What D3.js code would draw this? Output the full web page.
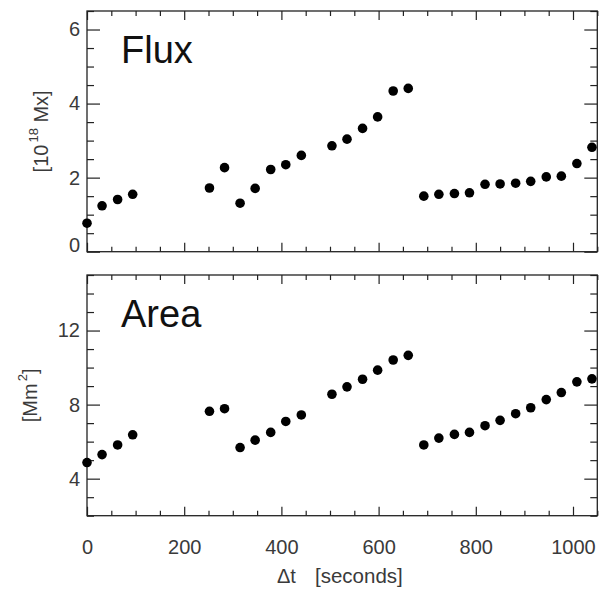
<!DOCTYPE html>
<html>
<head>
<meta charset="utf-8">
<script src="https://cdn.jsdelivr.net/npm/d3@7"></script>
<style>
  html, body { margin: 0; padding: 0; background: #fff; }
  svg { display: block; font-family: "Liberation Sans", Arial, Helvetica, sans-serif; }
</style>
</head>
<body>
<svg id="chart" width="603" height="590"></svg>
<script>
// ---- data ----
const times = [0, 31, 63, 94, 252, 283, 315, 346, 378, 409, 441, 504, 535, 567, 598, 630, 661,
               693, 724, 756, 787, 819, 850, 882, 913, 945, 976, 1008, 1039];
const fluxValues = [0.77, 1.24, 1.41, 1.55, 1.72, 2.27, 1.31, 1.71, 2.22, 2.35, 2.60, 2.86, 3.04, 3.33, 3.64, 4.34, 4.41,
                    1.50, 1.55, 1.57, 1.59, 1.82, 1.83, 1.85, 1.90, 2.02, 2.04, 2.38, 2.82];
const areaValues = [4.87, 5.30, 5.82, 6.37, 7.64, 7.78, 5.68, 6.08, 6.50, 7.09, 7.44, 8.56, 8.96, 9.37, 9.86, 10.41, 10.66,
                    5.82, 6.19, 6.39, 6.50, 6.86, 7.15, 7.51, 7.83, 8.27, 8.65, 9.23, 9.39];
const xMajorTicks = [0, 200, 400, 600, 800, 1000];
const fluxMajorTicks = [0, 2, 4, 6];
const areaMajorTicks = [4, 8, 12];

// ---- layout ----
const svg = d3.select("#chart");
const L = 87, R = 597.3;
const x = d3.scaleLinear().domain([0, 1050]).range([L, R]);
const xMinor = d3.range(0, 1051, 50).filter(v => v % 200 !== 0);

const panels = [
  { name: "Flux", values: fluxValues, domain: [0, 6.5], top: 11, bottom: 251.7,
    major: fluxMajorTicks, minorStep: 0.5, ylabelX: 48, unit: ["[10", "18", " Mx]"], xlabels: false },
  { name: "Area", values: areaValues, domain: [2, 15], top: 275, bottom: 515.7,
    major: areaMajorTicks, minorStep: 1, ylabelX: 37, unit: ["[Mm", "2", "]"], xlabels: true }
];

const axisColor = "#222";
const textColor = "#3a3a3a";

panels.forEach(p => {
  const y = d3.scaleLinear().domain(p.domain).range([p.bottom, p.top]);
  const g = svg.append("g");
  const yMinor = d3.range(p.domain[0], p.domain[1] + 1e-9, p.minorStep)
                   .filter(v => !p.major.some(m => Math.abs(m - v) < 1e-9));

  // bottom axis (ticks pointing inward)
  g.append("g").attr("transform", `translate(0,${p.bottom})`)
    .call(d3.axisBottom(x).tickValues(xMajorTicks).tickSize(-9).tickPadding(24)
      .tickFormat(p.xlabels ? d3.format("d") : () => ""));
  g.append("g").attr("transform", `translate(0,${p.bottom})`)
    .call(d3.axisBottom(x).tickValues(xMinor).tickSize(-5).tickFormat(() => ""));
  // top axis
  g.append("g").attr("transform", `translate(0,${p.top})`)
    .call(d3.axisTop(x).tickValues(xMajorTicks).tickSize(-9).tickFormat(() => ""));
  g.append("g").attr("transform", `translate(0,${p.top})`)
    .call(d3.axisTop(x).tickValues(xMinor).tickSize(-5).tickFormat(() => ""));
  // left axis
  const lMaj = g.append("g").attr("transform", `translate(${L},0)`)
    .call(d3.axisLeft(y).tickValues(p.major).tickSize(-13).tickPadding(7).tickFormat(d3.format("d")));
  g.append("g").attr("transform", `translate(${L},0)`)
    .call(d3.axisLeft(y).tickValues(yMinor).tickSize(-7).tickFormat(() => ""));
  // right axis
  g.append("g").attr("transform", `translate(${R},0)`)
    .call(d3.axisRight(y).tickValues(p.major).tickSize(-13).tickFormat(() => ""));
  g.append("g").attr("transform", `translate(${R},0)`)
    .call(d3.axisRight(y).tickValues(yMinor).tickSize(-7).tickFormat(() => ""));

  g.selectAll(".domain").remove();
  g.selectAll(".tick line").attr("stroke", axisColor).attr("stroke-width", 1.2);
  g.selectAll(".tick text").attr("fill", textColor).attr("font-size", 20)
    .attr("font-family", "Liberation Sans, Arial, sans-serif");
  // keep the lowest label inside the panel, as in the reference
  lMaj.selectAll(".tick").each(function(d) {
    const ty = y(d);
    if (ty > p.bottom - 7) d3.select(this).select("text").attr("y", (p.bottom - 7) - ty);
  });

  // frame
  g.append("rect").attr("x", L).attr("y", p.top).attr("width", R - L).attr("height", p.bottom - p.top)
    .attr("fill", "none").attr("stroke", axisColor).attr("stroke-width", 1.3);

  // points
  g.append("g").selectAll("circle").data(p.values).join("circle")
    .attr("cx", (d, i) => x(times[i])).attr("cy", d => y(d)).attr("r", 4.8).attr("fill", "#000");

  // panel title
  g.append("text").attr("x", 121).attr("y", p.top + 52).attr("font-size", 38)
    .attr("fill", "#111").text(p.name);

  // y axis label
  const yl = g.append("text")
    .attr("transform", `translate(${p.ylabelX},${(p.top + p.bottom) / 2}) rotate(-90)`)
    .attr("text-anchor", "middle").attr("font-size", 20).attr("fill", textColor);
  yl.append("tspan").text(p.unit[0]);
  yl.append("tspan").attr("font-size", 13).attr("dx", 2).attr("dy", -10).text(p.unit[1]);
  yl.append("tspan").attr("dy", 10).text(p.unit[2]);
});

// x axis title
svg.append("text").attr("x", 277).attr("y", 583).attr("font-size", 20).attr("fill", textColor)
  .text("\u0394t");
svg.append("text").attr("x", 315).attr("y", 583).attr("font-size", 20.5).attr("fill", textColor)
  .text("[seconds]");
</script>
</body>
</html>
